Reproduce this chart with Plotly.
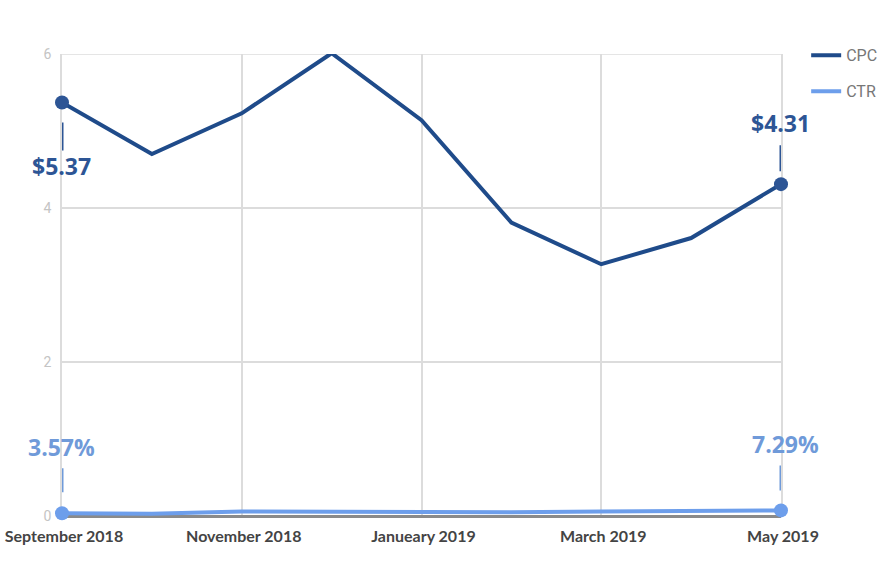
import plotly.graph_objects as go

# Monthly campaign metrics
months = ["September 2018", "October 2018", "November 2018", "December 2018",
          "Janueary 2019", "February 2019", "March 2019", "April 2019", "May 2019"]
cpc = [5.37, 4.70, 5.23, 6.01, 5.14, 3.81, 3.27, 3.61, 4.31]
ctr = [0.0357, 0.030, 0.060, 0.055, 0.055, 0.050, 0.060, 0.065, 0.0729]

tick_idx = [0, 2, 4, 6, 8]
tick_text = [months[i] for i in tick_idx]
y_ticks = [0, 2, 4, 6]

CPC_COLOR = "#1f4b8a"
CPC_LABEL = "#2d5595"
CTR_COLOR = "#6d9eeb"
CTR_LABEL = "#6f9ad9"
GRID = "#dcdcdc"

x = list(range(len(months)))
last = len(months) - 1

fig = go.Figure()
fig.add_trace(go.Scatter(x=x, y=cpc, mode="lines", name="CPC",
                         line=dict(color=CPC_COLOR, width=4),
                         legend="legend", cliponaxis=False))
fig.add_trace(go.Scatter(x=x, y=ctr, mode="lines", name="CTR",
                         line=dict(color=CTR_COLOR, width=4),
                         legend="legend2", cliponaxis=False))

# endpoint markers
fig.add_trace(go.Scatter(x=[0, last], y=[cpc[0], cpc[last]], mode="markers",
                         marker=dict(color=CPC_LABEL, size=14), showlegend=False,
                         cliponaxis=False, hoverinfo="skip"))
fig.add_trace(go.Scatter(x=[0, last], y=[ctr[0], ctr[last]], mode="markers",
                         marker=dict(color=CTR_COLOR, size=14), showlegend=False,
                         cliponaxis=False, hoverinfo="skip"))

label_font = dict(family="Open Sans", size=23, weight=700)

callouts = [
    (0, cpc[0], f"${cpc[0]:.2f}", CPC_LABEL, -63, -1, (-20, -48)),
    (last, cpc[last], f"${cpc[last]:.2f}", CPC_LABEL, 61, -1, (13, 39)),
    (0, ctr[0], f"{ctr[0]*100:.2f}%", CTR_LABEL, 66, -1, (21, 45)),
    (last, ctr[last], f"{ctr[last]*100:.2f}%", CTR_LABEL, 66, 4, (20, 45)),
]
for xi, yi, txt, col, ys, xs, (s0, s1) in callouts:
    fig.add_annotation(x=xi, y=yi, text=txt, showarrow=False, yshift=ys, xshift=xs,
                       font=dict(color=col, **label_font))
    fig.add_shape(type="line", xref="x", yref="y", x0=xi, x1=xi,
                  ysizemode="pixel", yanchor=yi, y0=s0, y1=s1,
                  line=dict(color=col, width=3))

# top border of the plot frame
fig.add_shape(type="line", xref="paper", yref="y", x0=0, x1=1, y0=6, y1=6,
              line=dict(color=GRID, width=1.5), layer="below")

legend_font = dict(family="Roboto", size=16, color="#777")
fig.update_layout(
    width=886, height=588,
    margin=dict(l=62, r=105, t=54, b=72, autoexpand=False),
    paper_bgcolor="white", plot_bgcolor="white",
    showlegend=True,
    legend=dict(x=1.035, y=1.034, xanchor="left", yanchor="top",
                font=legend_font, itemwidth=30, bgcolor="rgba(0,0,0,0)"),
    legend2=dict(x=1.035, y=0.956, xanchor="left", yanchor="top",
                 font=legend_font, itemwidth=30, bgcolor="rgba(0,0,0,0)"),
    xaxis=dict(range=[0, last], tickvals=tick_idx, ticktext=tick_text,
               showgrid=True, gridcolor=GRID, gridwidth=1.5,
               zeroline=False, showline=False, ticks="", automargin=False,
               tickfont=dict(family="Lato", size=16, color="#444", weight=700),
               ticklabelstandoff=9, ticklabelshift=2),
    yaxis=dict(range=[0, 6], tickvals=y_ticks,
               showgrid=True, gridcolor=GRID, gridwidth=1.5,
               zeroline=True, zerolinecolor="#8a8a8a", zerolinewidth=2.5,
               showline=True, mirror=True, linecolor=GRID, linewidth=1.5,
               layer="below traces", ticks="", automargin=False,
               tickfont=dict(family="Roboto", size=14, color="#c4c4c4"),
               ticklabelstandoff=6),
)

fig.write_html("out.html")
